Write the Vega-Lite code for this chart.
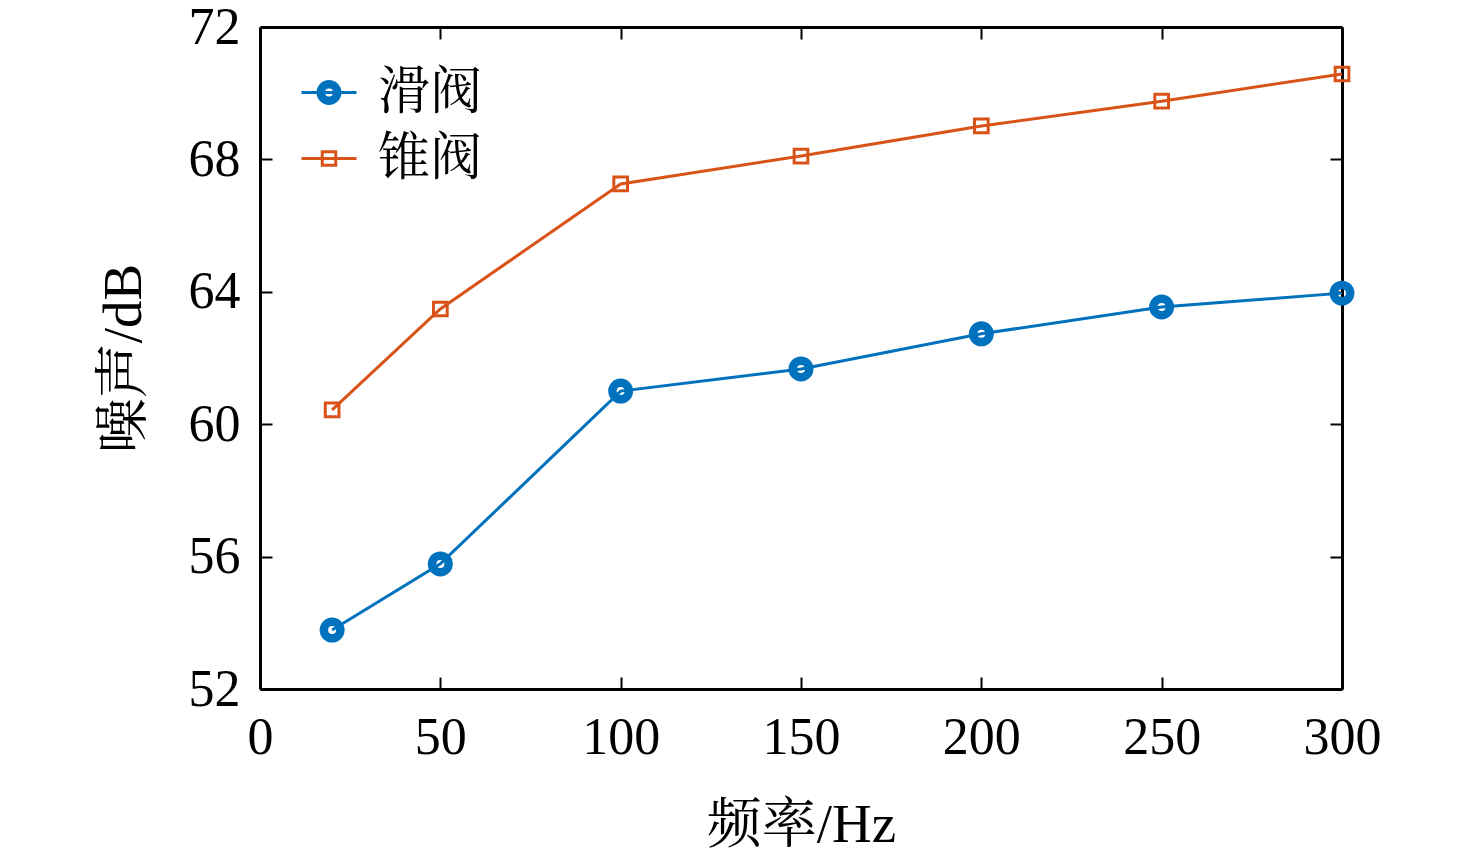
{
  "$schema": "https://vega.github.io/schema/vega-lite/v6.json",
  "width": 1082,
  "height": 662,
  "autosize": {"type": "none"},
  "padding": {"left": 260, "top": 27, "right": 134, "bottom": 173},
  "background": "white",
  "config": {
    "view": {"stroke": null},
    "font": "'Liberation Serif', 'Noto Serif CJK SC', 'Noto Sans CJK SC', serif",
    "axis": {
      "grid": false,
      "domainColor": "black",
      "domainWidth": 3,
      "tickColor": "black",
      "tickWidth": 2,
      "tickSize": -12,
      "labelColor": "black",
      "labelFontSize": 52,
      "labelFont": "'Liberation Serif', serif",
      "labelFlush": false,
      "labelOverlap": false,
      "titleColor": "black",
      "titleFontSize": 55,
      "titleFontWeight": "normal",
      "titleFont": "'Liberation Serif', 'Noto Serif CJK SC', 'Noto Sans CJK SC', serif"
    }
  },
  "data": {
    "values": [
      {"freq": 20, "noise": 53.78, "valve": "滑阀"},
      {"freq": 50, "noise": 55.78, "valve": "滑阀"},
      {"freq": 100, "noise": 61.0, "valve": "滑阀"},
      {"freq": 150, "noise": 61.67, "valve": "滑阀"},
      {"freq": 200, "noise": 62.73, "valve": "滑阀"},
      {"freq": 250, "noise": 63.54, "valve": "滑阀"},
      {"freq": 300, "noise": 63.96, "valve": "滑阀"},
      {"freq": 20, "noise": 60.43, "valve": "锥阀"},
      {"freq": 50, "noise": 63.48, "valve": "锥阀"},
      {"freq": 100, "noise": 67.26, "valve": "锥阀"},
      {"freq": 150, "noise": 68.1, "valve": "锥阀"},
      {"freq": 200, "noise": 69.01, "valve": "锥阀"},
      {"freq": 250, "noise": 69.76, "valve": "锥阀"},
      {"freq": 300, "noise": 70.58, "valve": "锥阀"}
    ]
  },
  "layer": [
    {
      "mark": {"type": "line", "strokeWidth": 3, "clip": false},
      "encoding": {
        "x": {
          "field": "freq", "type": "quantitative",
          "scale": {"domain": [0, 300], "nice": false, "zero": false},
          "axis": {"orient": "bottom", "title": "频率/Hz", "values": [0, 50, 100, 150, 200, 250, 300], "labelPadding": 35, "titlePadding": 35}
        },
        "y": {
          "field": "noise", "type": "quantitative",
          "scale": {"domain": [52, 72], "nice": false, "zero": false},
          "axis": {"orient": "left", "title": "噪声/dB", "values": [52, 56, 60, 64, 68, 72], "labelPadding": 32, "titlePadding": 36}
        },
        "color": {
          "field": "valve", "type": "nominal",
          "scale": {"domain": ["滑阀", "锥阀"], "range": ["#0072BD", "#D95319"]},
          "legend": {
            "title": null,
            "orient": "none",
            "legendX": 40,
            "legendY": 36.5,
            "padding": 0,
            "symbolSize": 3025,
            "symbolStrokeWidth": 3,
            "symbolFillColor": "transparent",
            "labelFontSize": 52,
            "labelFont": "'Noto Serif CJK SC', 'Noto Sans CJK SC', serif",
            "labelColor": "black",
            "labelOffset": 20,
            "rowPadding": 11,
            "encode": {
              "symbols": {
                "update": {
                  "shape": {"signal": "datum.value === '滑阀' ? 'M-1,0H1 M0.4,0A0.4,0.4 0 1,1 -0.4,0A0.4,0.4 0 1,1 0.4,0 M0.309,0A0.309,0.309 0 1,1 -0.309,0A0.309,0.309 0 1,1 0.309,0 M0.2,0A0.2,0.2 0 1,1 -0.2,0A0.2,0.2 0 1,1 0.2,0' : 'M-1,0H1 M-0.245,-0.245H0.245V0.245H-0.245Z'"},
                  "stroke": {"signal": "scale('color', datum.value)"},
                  "fill": {"value": "transparent"},
                  "strokeWidth": {"value": 3},
                  "opacity": {"value": 1}
                }
              }
            }
          }
        }
      }
    },
    {
      "transform": [{"filter": "datum.valve === '滑阀'"}],
      "mark": {"type": "point", "shape": "circle", "filled": false, "size": 272, "strokeWidth": 8.5, "opacity": 1, "clip": false},
      "encoding": {
        "x": {
          "field": "freq", "type": "quantitative",
          "axis": {"orient": "top", "labels": false, "title": null, "values": [0, 50, 100, 150, 200, 250, 300]}
        },
        "y": {
          "field": "noise", "type": "quantitative",
          "axis": {"orient": "right", "labels": false, "title": null, "values": [52, 56, 60, 64, 68, 72]}
        },
        "color": {"field": "valve", "type": "nominal"}
      }
    },
    {
      "transform": [{"filter": "datum.valve === '锥阀'"}],
      "mark": {"type": "point", "shape": "square", "filled": false, "size": 188, "strokeWidth": 3, "opacity": 1, "clip": false},
      "encoding": {
        "x": {"field": "freq", "type": "quantitative", "axis": null},
        "y": {"field": "noise", "type": "quantitative", "axis": null},
        "color": {"field": "valve", "type": "nominal"}
      }
    }
  ]
}
